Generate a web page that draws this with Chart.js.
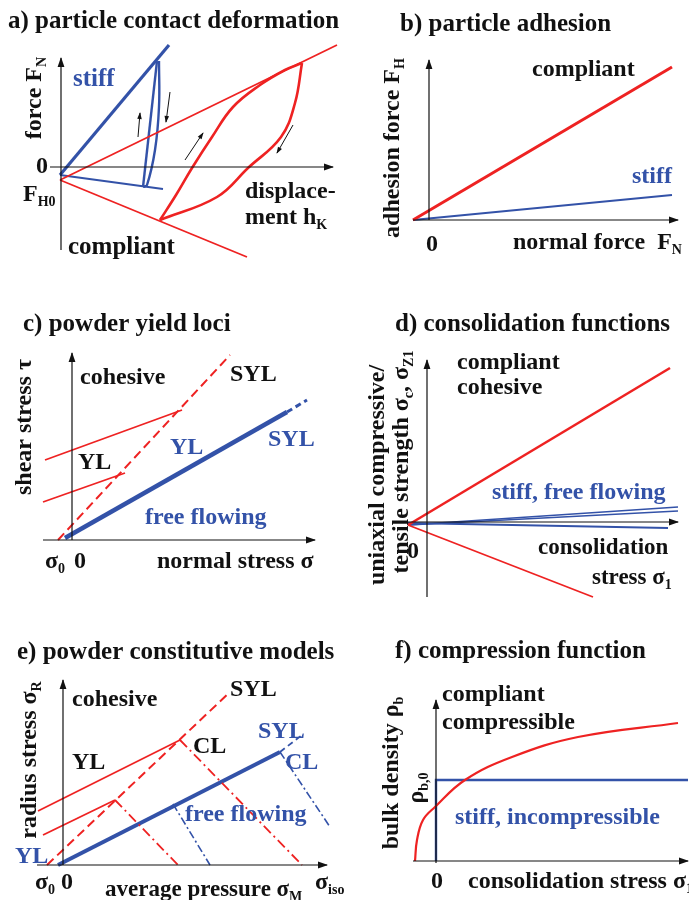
<!DOCTYPE html>
<html>
<head>
<meta charset="utf-8">
<script src="https://cdn.jsdelivr.net/npm/chart.js@4/dist/chart.umd.min.js"></script>
<style>
  body { margin: 0; background: #fff; }
  #wrap { position: relative; width: 689px; height: 900px; }
  #wrap canvas { position: absolute; }
</style>
</head>
<body>
<div id="wrap"></div>
<script>
const RED = '#ee2222';
const BLUE = '#3352a8';
const INK = '#111111';

// a) particle contact deformation
const aAxisX = [[-1.1, 0], [27.2, 0]];
const aAxisY = [[0, -8.3], [0, 10.9]];
const aStiffLoad = [[-0.1, -0.8], [10.8, 12.2]];
const aStiffUnload = [[9.6, 10.6], [8.2, -2.0]];
const aStiffReload = [[9.8, 10.6], [9.8, 6.0], [9.4, 1.7], [8.6, -1.8], [8.2, -2.0]];
const aStiffBase = [[-0.1, -0.8], [10.2, -2.2]];
const aSoftUpper = [[-0.1, -1.3], [27.6, 12.2]];
const aSoftLower = [[-0.1, -1.3], [18.6, -9.0]];
const aSoftLoad = [[9.9, -5.3], [11.5, -2.8], [13.1, -0.1], [15.1, 3.0], [17.2, 6.0], [19.9, 8.2], [22.4, 9.7], [24.1, 10.4]];
const aSoftUnload = [[24.1, 10.4], [23.4, 6.4], [22.0, 3.0], [18.7, -0.1], [15.6, -3.0], [9.9, -5.3]];
const aMoves = [
  [[7.7, 3.0], [7.9, 5.4]],
  [[10.9, 7.5], [10.5, 4.5]],
  [[12.4, 0.7], [14.2, 3.4]],
  [[23.2, 4.2], [21.6, 1.4]],
];

// b) particle adhesion
const bAxisX = [[-1.6, 0], [24.9, 0]];
const bAxisY = [[0, 0], [0, 16.0]];
const bCompliant = [[-1.6, 0], [24.3, 15.3]];
const bStiff = [[-1.6, 0], [24.3, 2.5]];

// c) powder yield loci
const cAxisX = [[-2.9, 0], [24.3, 0]];
const cAxisY = [[0, 0], [0, 18.7]];
const cSylRed = [[-1.4, 0], [15.8, 18.5]];
const cYlRed1 = [[-2.7, 8.0], [11.0, 13.0]];
const cYlRed2 = [[-2.9, 3.8], [5.3, 6.7]];
const cYlBlue = [[-0.7, 0.2], [21.5, 12.8]];
const cSylBlue = [[21.5, 12.8], [23.5, 14.0]];

// d) consolidation functions
const dAxisX = [[-1.9, 0], [25.1, 0]];
const dAxisY = [[0, -7.5], [0, 16.2]];
const dCompressive = [[-1.9, -0.3], [24.3, 15.4]];
const dTensile = [[-1.9, -0.3], [16.6, -7.5]];
const dStiffUp1 = [[-1.9, -0.3], [25.1, 1.5]];
const dStiffUp2 = [[-1.9, -0.3], [25.1, 1.1]];
const dStiffDown = [[-1.9, -0.1], [24.1, -0.6]];

// e) powder constitutive models
const eAxisX = [[-2.6, 0], [26.4, 0]];
const eAxisY = [[0, 0], [0, 18.5]];
const eSylRed = [[-1.6, 0], [16.7, 17.3]];
const eYlRed1 = [[-2.5, 5.4], [11.7, 12.5]];
const eYlRed2 = [[-2.0, 3.0], [5.2, 6.5]];
const eClRed1 = [[11.7, 12.5], [23.9, 0]];
const eClRed2 = [[5.2, 6.5], [11.5, 0]];
const eYlBlue = [[-0.5, 0], [21.7, 11.3]];
const eSylBlue = [[21.7, 11.3], [23.9, 13.0]];
const eClBlue1 = [[21.7, 11.3], [26.7, 3.8]];
const eClBlue2 = [[11.0, 6.1], [14.7, 0]];

// f) compression function
const fAxisX = [[-2.3, 0], [25.2, 0]];
const fAxisY = [[0, -0.2], [0, 16.1]];
const fCompliant = [[-2.1, 0], [-1.9, 2.1], [-1.3, 4.1], [-0.1, 5.4], [2.9, 8.1], [7.6, 10.4], [14.2, 12.4], [24.2, 13.8]];
const fStiff = [[0, 0], [0, 8.1], [25.2, 8.1]];

function line(pts, color, width, extra) {
  return Object.assign({
    data: pts.map(p => ({ x: p[0], y: p[1] })),
    showLine: true,
    borderColor: color,
    backgroundColor: color,
    borderWidth: width,
    pointRadius: 0,
    fill: false,
    tension: 0,
  }, extra || {});
}
function axis(pts) { return line(pts, INK, 1.2, { arrow: 9 }); }

function parseRich(text) {
  const segs = [];
  const re = /_\{([^}]*)\}|[^_]+/g;
  let m;
  while ((m = re.exec(text))) segs.push(m[1] !== undefined ? { t: m[1], sub: true } : { t: m[0], sub: false });
  return segs;
}
function font(size) { return 'bold ' + size + 'px "Liberation Serif", "Times New Roman", serif'; }

function drawRich(ctx, text, size, align) {
  const segs = parseRich(text);
  let w = 0;
  segs.forEach(s => {
    ctx.font = font(s.sub ? Math.round(size * 0.6) : size);
    s.w = ctx.measureText(s.t).width;
    w += s.w;
  });
  let x = align === 'center' ? -w / 2 : align === 'right' ? -w : 0;
  ctx.textBaseline = 'middle';
  ctx.textAlign = 'left';
  segs.forEach(s => {
    ctx.font = font(s.sub ? Math.round(size * 0.6) : size);
    ctx.fillText(s.t, x, s.sub ? size * 0.3 : 0);
    x += s.w;
  });
}

const arrowHeads = {
  id: 'arrowHeads',
  afterDatasetsDraw(chart) {
    const ctx = chart.ctx;
    chart.data.datasets.forEach((ds, i) => {
      if (!ds.arrow) return;
      const pts = chart.getDatasetMeta(i).data;
      const a = pts[pts.length - 2], b = pts[pts.length - 1];
      const ang = Math.atan2(b.y - a.y, b.x - a.x);
      const L = ds.arrow, W = L * 0.38;
      ctx.save();
      ctx.fillStyle = ds.borderColor;
      ctx.translate(b.x, b.y);
      ctx.rotate(ang);
      ctx.beginPath();
      ctx.moveTo(1, 0);
      ctx.lineTo(-L, -W);
      ctx.lineTo(-L, W);
      ctx.closePath();
      ctx.fill();
      ctx.restore();
    });
  }
};

function notes(items) {
  return {
    id: 'notes',
    afterDraw(chart) {
      const { ctx, scales: { x, y } } = chart;
      items.forEach(n => {
        ctx.save();
        ctx.fillStyle = n.c || INK;
        ctx.translate(x.getPixelForValue(n.x), y.getPixelForValue(n.y));
        if (n.rot) ctx.rotate(-Math.PI / 2);
        drawRich(ctx, n.t, n.s || 24, n.rot ? 'center' : (n.align || 'left'));
        ctx.restore();
      });
    }
  };
}

function panel(left, top, w, h, ox, oy, datasets, items) {
  const cv = document.createElement('canvas');
  cv.width = w; cv.height = h;
  cv.style.left = left + 'px'; cv.style.top = top + 'px';
  cv.style.width = w + 'px'; cv.style.height = h + 'px';
  document.getElementById('wrap').appendChild(cv);
  new Chart(cv, {
    type: 'scatter',
    data: { datasets },
    options: {
      responsive: false,
      animation: false,
      events: [],
      layout: { padding: 0 },
      plugins: { legend: { display: false }, tooltip: { enabled: false } },
      scales: {
        x: { type: 'linear', display: false, min: -ox / 10, max: (w - ox) / 10 },
        y: { type: 'linear', display: false, min: -(h - oy) / 10, max: oy / 10 },
      },
    },
    plugins: [arrowHeads, notes(items)],
  });
}

const dashed = { borderDash: [9, 5] };
const dashDot = { borderDash: [10, 4, 2, 4] };

panel(0, 0, 345, 300, 61, 167, [
  axis(aAxisX), axis(aAxisY),
  line(aSoftUpper, RED, 1.8),
  line(aSoftLower, RED, 1.8),
  line(aSoftLoad, RED, 2.6, { tension: 0.4 }),
  line(aSoftUnload, RED, 2.6, { tension: 0.4 }),
  line(aStiffLoad, BLUE, 3.2),
  line(aStiffUnload, BLUE, 2.4),
  line(aStiffReload, BLUE, 2.4, { tension: 0.4 }),
  line(aStiffBase, BLUE, 2),
  ...aMoves.map(m => line(m, INK, 1, { arrow: 6 })),
], [
  { t: 'a) particle contact deformation', x: -5.3, y: 14.5, s: 25 },
  { t: '0', x: -1.9, y: 0, align: 'center' },
  { t: 'F_{H0}', x: -3.8, y: -2.8 },
  { t: 'force F_{N}', x: -2.6, y: 6.9, rot: 1 },
  { t: 'stiff', x: 1.2, y: 8.7, c: BLUE, s: 25 },
  { t: 'displace-', x: 18.4, y: -2.5 },
  { t: 'ment h_{K}', x: 18.4, y: -5.1 },
  { t: 'compliant', x: 0.7, y: -8.1, s: 25 },
]);

panel(345, 0, 344, 300, 84, 220, [
  axis(bAxisX), axis(bAxisY),
  line(bCompliant, RED, 3),
  line(bStiff, BLUE, 2),
], [
  { t: 'b) particle adhesion', x: -2.9, y: 19.5, s: 25 },
  { t: 'compliant', x: 10.3, y: 15.0 },
  { t: 'stiff', x: 20.3, y: 4.3, c: BLUE },
  { t: '0', x: 0.3, y: -2.5, align: 'center' },
  { t: 'normal force  F_{N}', x: 8.4, y: -2.3 },
  { t: 'adhesion force F_{H}', x: -3.6, y: 7.2, rot: 1 },
]);

panel(0, 300, 345, 300, 72, 240, [
  axis(cAxisX), axis(cAxisY),
  line(cYlRed1, RED, 1.8),
  line(cYlRed2, RED, 1.8),
  line(cSylRed, RED, 2, dashed),
  line(cYlBlue, BLUE, 4.5),
  line(cSylBlue, BLUE, 3, { borderDash: [6, 4] }),
], [
  { t: 'c) powder yield loci', x: -4.9, y: 21.5, s: 25 },
  { t: 'cohesive', x: 0.8, y: 16.2 },
  { t: 'SYL', x: 15.8, y: 16.5 },
  { t: 'YL', x: 0.6, y: 7.7 },
  { t: 'YL', x: 9.8, y: 9.2, c: BLUE },
  { t: 'SYL', x: 19.6, y: 10.0, c: BLUE },
  { t: 'free flowing', x: 7.3, y: 2.2, c: BLUE },
  { t: 'σ_{0}', x: -2.7, y: -2.2 },
  { t: '0', x: 0.8, y: -2.2, align: 'center' },
  { t: 'normal stress σ', x: 8.5, y: -2.2 },
  { t: 'shear stress τ', x: -4.7, y: 11.3, rot: 1 },
]);

panel(345, 300, 344, 300, 82, 222, [
  axis(dAxisX), axis(dAxisY),
  line(dCompressive, RED, 2.6),
  line(dTensile, RED, 1.8),
  line(dStiffUp1, BLUE, 1.6),
  line(dStiffUp2, BLUE, 1.6),
  line(dStiffDown, BLUE, 2),
], [
  { t: 'd) consolidation functions', x: -3.2, y: 19.7, s: 25 },
  { t: 'compliant', x: 3.0, y: 15.9 },
  { t: 'cohesive', x: 3.0, y: 13.4 },
  { t: 'stiff, free flowing', x: 6.5, y: 2.9, c: BLUE },
  { t: '0', x: -1.4, y: -3.0, align: 'center' },
  { t: 'consolidation', x: 11.1, y: -2.6, s: 23 },
  { t: 'stress σ_{1}', x: 16.5, y: -5.6, s: 23 },
  { t: 'uniaxial compressive/', x: -4.9, y: 4.7, rot: 1 },
  { t: 'tensile strength σ_{c}, σ_{Z1}', x: -2.5, y: 6.0, rot: 1 },
]);

panel(0, 600, 345, 300, 63, 265, [
  axis(eAxisX), axis(eAxisY),
  line(eYlRed1, RED, 1.8),
  line(eYlRed2, RED, 1.8),
  line(eSylRed, RED, 2, dashed),
  line(eClRed1, RED, 1.8, dashDot),
  line(eClRed2, RED, 1.8, dashDot),
  line(eYlBlue, BLUE, 4),
  line(eSylBlue, BLUE, 1.8, { borderDash: [6, 4] }),
  line(eClBlue1, BLUE, 1.6, { borderDash: [8, 3, 2, 3] }),
  line(eClBlue2, BLUE, 1.6, { borderDash: [8, 3, 2, 3] }),
], [
  { t: 'e) powder constitutive models', x: -4.6, y: 21.2, s: 25 },
  { t: 'cohesive', x: 0.9, y: 16.5 },
  { t: 'SYL', x: 16.7, y: 17.5 },
  { t: 'CL', x: 13.0, y: 11.8 },
  { t: 'YL', x: 0.9, y: 10.2 },
  { t: 'SYL', x: 19.5, y: 13.3, c: BLUE },
  { t: 'CL', x: 22.2, y: 10.2, c: BLUE },
  { t: 'free flowing', x: 12.2, y: 5.0, c: BLUE },
  { t: 'YL', x: -4.8, y: 0.8, c: BLUE },
  { t: 'σ_{0}', x: -2.8, y: -1.8 },
  { t: '0', x: 0.4, y: -1.8, align: 'center' },
  { t: 'average pressure σ_{M}', x: 4.2, y: -2.5, s: 23 },
  { t: 'σ_{iso}', x: 25.2, y: -1.8 },
  { t: 'radius stress σ_{R}', x: -3.3, y: 10.5, rot: 1 },
]);

panel(345, 600, 344, 300, 91, 261, [
  axis(fAxisX), axis(fAxisY),
  line(fCompliant, RED, 2.2, { tension: 0.4 }),
  line(fStiff, BLUE, 2.4),
], [
  { t: 'f) compression function', x: -4.1, y: 20.9, s: 25 },
  { t: 'compliant', x: 0.6, y: 16.6 },
  { t: 'compressible', x: 0.6, y: 13.8 },
  { t: 'ρ_{b,0}', x: -1.9, y: 7.3, rot: 1 },
  { t: 'stiff, incompressible', x: 1.9, y: 4.3, c: BLUE },
  { t: '0', x: 0.1, y: -2.1, align: 'center' },
  { t: 'consolidation stress σ_{1}', x: 3.2, y: -2.1 },
  { t: 'bulk density ρ_{b}', x: -4.4, y: 8.8, rot: 1 },
]);
</script>
</body>
</html>
